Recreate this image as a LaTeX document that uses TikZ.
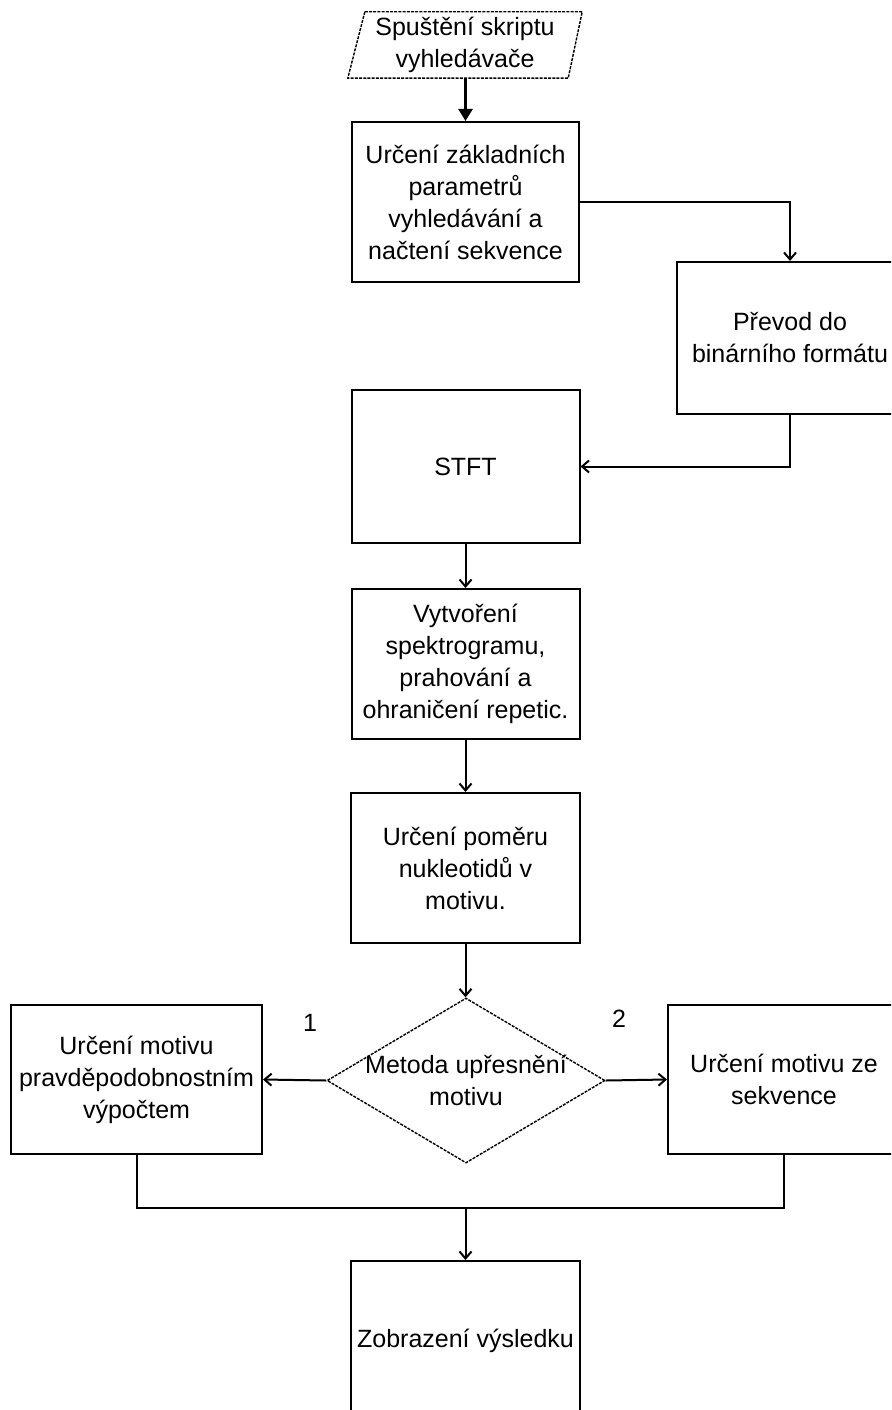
\documentclass[tikz,border=0pt]{standalone}
\usepackage{fontspec}
\setmainfont{Liberation Sans}
\usetikzlibrary{arrows.meta,shapes.geometric}
\begin{document}
\begin{tikzpicture}[x=1pt,y=-1pt,
  txt/.style={font=\fontsize{25}{32}\selectfont, text=black, align=center, inner sep=0pt},
  box/.style={txt, draw, line width=2pt},
  dashbox/.style={draw, line width=1.4pt, dash pattern=on 3pt off 1.2pt},
  conn/.style={line width=2pt, -{Straight Barb[length=7pt,width=12pt]}},
  plain/.style={line width=2pt},
  firstarrow/.style={line width=2.4pt, -{Triangle[length=12pt,width=14pt]}}]
\path[use as bounding box] (0,0) rectangle (891,1410);
\clip (0,0) rectangle (891,1410);

% start (parallelogram)
\node[txt, minimum width=234pt, minimum height=66pt] (start) at (465,45) {Spuštění skriptu\\vyhledávače};
\draw[dashbox] ([xshift=17pt]start.north west) -- (start.north east)
  -- ([xshift=-14pt]start.south east) -- (start.south west) -- cycle;

\node[box, minimum width=227pt, minimum height=160pt] (b2) at (465.5,202)
  {Určení základních\\parametrů\\vyhledávání a\\načtení sekvence};
\node[box, minimum width=226pt, minimum height=152pt] (b3) at (790,338)
  {Převod do\\binárního formátu};
\node[box, minimum width=228pt, minimum height=153pt] (stft) at (465.5,466.5) {STFT};
\node[box, minimum width=228pt, minimum height=150pt] (vyt) at (465.5,664)
  {Vytvoření\\spektrogramu,\\prahování a\\ohraničení repetic.};
\node[box, minimum width=229pt, minimum height=150pt] (pom) at (465.5,868)
  {Určení poměru\\nukleotidů v\\motivu.};
\node[dashbox, diamond, inner sep=2pt, minimum width=278pt, minimum height=165pt] (dec) at (466,1080.5) {};
\node[txt] (dectxt) at (dec.center) {Metoda upřesnění\\motivu};
\node[box, minimum width=251pt, minimum height=149pt] (left) at (136.5,1079.5)
  {Určení motivu\\pravděpodobnostním\\výpočtem};
\node[box, minimum width=232pt, minimum height=149pt] (right) at (784,1079.5)
  {Určení motivu ze\\sekvence};
\node[box, minimum width=229pt, minimum height=160pt] (res) at (465.5,1341)
  {Zobrazení výsledku};

\node[txt] (l1) at (310,1023) {1};
\node[txt] (l2) at (619,1019) {2};

\coordinate (merge) at (465.5,1208);

\draw[firstarrow] (b2.north |- start.south) -- (b2.north);
\draw[conn] (b2.east) -| (b3.north);
\draw[conn] (b3.south) |- (stft.east);
\draw[conn] (stft.south) -- (vyt.north);
\draw[conn] (vyt.south) -- (pom.north);
\draw[conn] (pom.south) -- (pom.south |- dec.north);
\draw[conn] (dec.west) -- (left.east);
\draw[conn] (dec.east) -- (right.west);
\draw[plain] (left.south) |- (merge) -| (right.south);
\draw[conn] (merge) -- (res.north);
\end{tikzpicture}
\end{document}
